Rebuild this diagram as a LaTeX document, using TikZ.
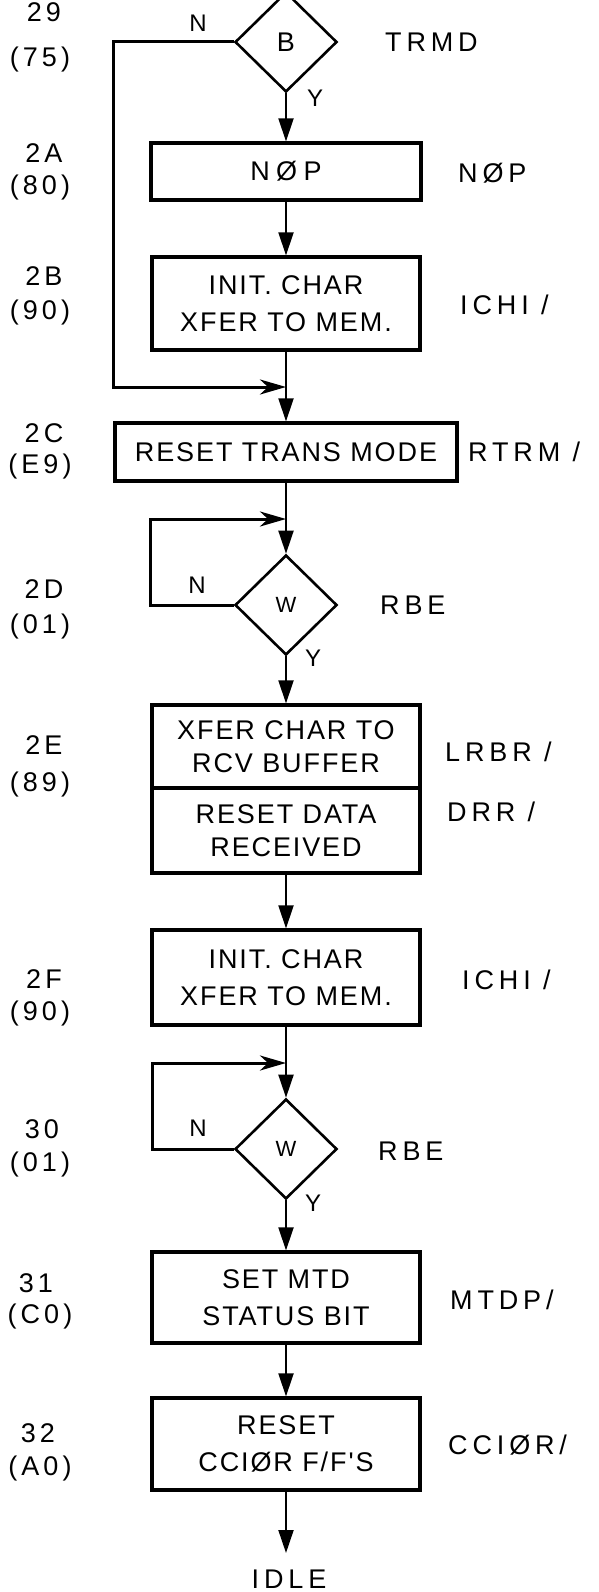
\documentclass[tikz,border=0pt]{standalone}
\usepackage{fontspec}
\setmainfont{Liberation Sans}[LetterSpace=12]
\newfontfamily\boxfont{Liberation Sans}[LetterSpace=7]
\usetikzlibrary{shapes.geometric,arrows.meta}
\begin{document}
\begin{tikzpicture}[x=1pt,y=-1pt,
  every node/.style={font=\fontsize{25}{36}\selectfont, inner sep=0pt},
  box/.style={draw, line width=3.2pt, align=center, minimum width=268pt, font=\boxfont\fontsize{27}{37}\selectfont},
  dia/.style={diamond, draw, line width=2.6pt, minimum width=102pt, minimum height=100pt, inner sep=0pt, font=\fontsize{22}{26}\selectfont},
  flow/.style={line width=2pt, -{Triangle[length=23pt,width=15pt]}},
  back/.style={line width=3pt, -{Stealth[length=26pt,width=15pt,inset=8pt]}},
  plain/.style={line width=2pt},
  rlbl/.style={anchor=west, font=\fontsize{27}{30}\selectfont\addfontfeatures{LetterSpace=18}},
  addr/.style={anchor=center, font=\fontsize{27}{30}\selectfont\addfontfeatures{LetterSpace=15}},
  yn/.style={font=\fontsize{24}{26}\selectfont}
]
\fill[white] (0,0) rectangle (598,1592);
\useasboundingbox (0,0) rectangle (598,1592);

% decisions and boxes
\node[dia, font=\fontsize{27}{30}\selectfont] (dB) at (286,42) {B};
\node[box, minimum width=270pt, minimum height=57pt, font=\boxfont\fontsize{27}{37}\selectfont\addfontfeatures{LetterSpace=24}] (nop) at (286,171.5) {NØP};
\node[box, minimum height=93pt] (init1) at (286,303.5) {INIT. CHAR\\XFER TO MEM.};
\node[box, minimum width=342pt, minimum height=58pt] (rtm) at (286,452) {RESET TRANS MODE};
\node[dia] (dW1) at (286,605) {W};
\node[box, minimum height=83pt, font=\boxfont\fontsize{27}{33}\selectfont] (xa) at (286,746.5) {XFER CHAR TO\\RCV BUFFER};
\node[box, minimum height=85pt, font=\boxfont\fontsize{27}{33}\selectfont] (xb) at (286,830.5) {RESET DATA\\RECEIVED};
\node[box, minimum height=95pt] (init2) at (286,977.5) {INIT. CHAR\\XFER TO MEM.};
\node[dia] (dW2) at (286,1149) {W};
\node[box, minimum height=91pt] (mtd) at (286,1297.5) {SET MTD\\STATUS BIT};
\node[box, minimum height=92pt] (ccir) at (286,1444) {RESET\\CCIØR F/F'S};
\node[font=\boxfont\fontsize{27}{30}\selectfont\addfontfeatures{LetterSpace=18}] (idle) at (289,1579) {IDLE};

% junction coordinates
\coordinate (m1) at (286,387);
\coordinate (c1) at (113,387);
\coordinate (m2) at (286,519);
\coordinate (c2) at (150,519);
\coordinate (m3) at (286,1063);
\coordinate (c3) at (152,1063);
\coordinate (ie) at (286,1553);

% connectors
\draw[flow] (dB.south) -- (nop.north);
\draw[flow] (nop.south) -- (init1.north);
\draw[back] (dB.west) -| (c1) -- (m1);
\draw[plain] (init1.south) -- (m1);
\draw[flow] (m1) -- (rtm.north);
\draw[plain] (rtm.south) -- (m2);
\draw[back] (dW1.west) -| (c2) -- (m2);
\draw[flow] (m2) -- (dW1.north);
\draw[flow] (dW1.south) -- (xa.north);
\draw[flow] (xb.south) -- (init2.north);
\draw[plain] (init2.south) -- (m3);
\draw[back] (dW2.west) -| (c3) -- (m3);
\draw[flow] (m3) -- (dW2.north);
\draw[flow] (dW2.south) -- (mtd.north);
\draw[flow] (mtd.south) -- (ccir.north);
\draw[flow] (ccir.south) -- (ie);

% N / Y labels
\node[yn] (n1) at (198,23) {N};
\node[yn] (y1) at (315,98) {Y};
\node[yn] (n2) at (197,585) {N};
\node[yn] (y2) at (313,658) {Y};
\node[yn] (n3) at (198,1128) {N};
\node[yn] (y3) at (313,1203) {Y};

% right labels
\node[rlbl] (r1) at (385,42) {TRMD};
\node[rlbl] (r2) at (458,173) {NØP};
\node[rlbl] (r3) at (460,305) {ICHI /};
\node[rlbl] (r4) at (468,452) {RTRM /};
\node[rlbl] (r5) at (380,605) {RBE};
\node[rlbl] (r6) at (445,752) {LRBR /};
\node[rlbl] (r7) at (447,812) {DRR /};
\node[rlbl] (r8) at (462,980) {ICHI /};
\node[rlbl] (r9) at (378,1151) {RBE};
\node[rlbl] (r10) at (450,1300) {MTDP/};
\node[rlbl] (r11) at (448,1445) {CCIØR/};

% left address labels
\node[addr] (a1) at (44,12) {29};
\node[addr] (a1b) at (40,60) {(75)};
\node[addr] (a2) at (44,153) {2A};
\node[addr] (a2b) at (40,188) {(80)};
\node[addr] (a3) at (44,276) {2B};
\node[addr] (a3b) at (40,313) {(90)};
\node[addr] (a4) at (44,433) {2C};
\node[addr] (a4b) at (40,467) {(E9)};
\node[addr] (a5) at (44,589) {2D};
\node[addr] (a5b) at (40,627) {(01)};
\node[addr] (a6) at (44,745) {2E};
\node[addr] (a6b) at (40,785) {(89)};
\node[addr] (a7) at (44,979) {2F};
\node[addr] (a7b) at (40,1013) {(90)};
\node[addr] (a8) at (42,1129) {30};
\node[addr] (a8b) at (40,1164) {(01)};
\node[addr] (a9) at (36,1283) {31};
\node[addr] (a9b) at (40,1316) {(C0)};
\node[addr] (a10) at (38,1433) {32};
\node[addr] (a10b) at (40,1468) {(A0)};
\end{tikzpicture}
\end{document}
